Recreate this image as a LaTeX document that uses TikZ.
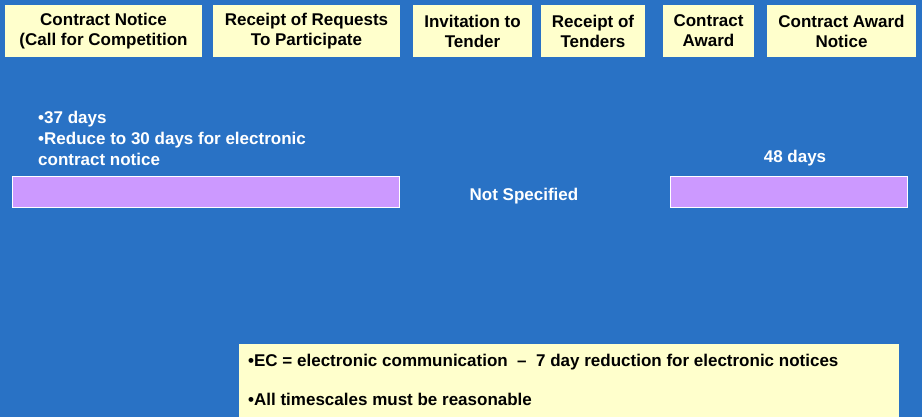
\documentclass[tikz,border=0pt]{standalone}
\usepackage{fontspec}
\setmainfont{Liberation Sans}
\definecolor{bg}{RGB}{41,114,197}
\definecolor{hy}{RGB}{255,255,204}
\definecolor{lil}{RGB}{204,153,255}
\tikzset{
  hdr/.style={fill=hy, inner sep=0pt, align=center, minimum height=52pt,
    font=\fontsize{17}{20}\selectfont\bfseries, text=black},
  bar/.style={fill=lil, draw=white, line width=1pt, inner sep=0pt, minimum height=31pt},
  wtxt/.style={text=white, inner sep=0pt, font=\fontsize{17}{21}\selectfont\bfseries},
  notebox/.style={fill=hy, inner sep=0pt, anchor=north west, minimum width=660pt, minimum height=75pt},
  notetxt/.style={text=black, inner sep=0pt, align=left, font=\fontsize{17}{39}\selectfont\bfseries}
}
\begin{document}
\begin{tikzpicture}[x=1pt,y=-1pt]
\useasboundingbox (0,0) rectangle (922,417);
\fill[bg] (0,0) rectangle (922,417);
\node[hdr, minimum width=197pt] (h1) at (103.5,31) {Contract Notice\\(Call for Competition};
\node[hdr, minimum width=187pt] (h2) at (306.5,31) {Receipt of Requests\\To Participate};
\node[hdr, minimum width=119pt] (h3) at (472.5,31) {Invitation to\\Tender};
\node[hdr, minimum width=104pt] (h4) at (593,31) {Receipt of\\Tenders};
\node[hdr, minimum width=91pt] (h5) at (708.5,31) {Contract\\Award};
\node[hdr, minimum width=149pt] (h6) at (841.5,31) {Contract Award\\Notice};
\node[wtxt, align=left, anchor=north west] (t1) at (38,111) {•37 days\\•Reduce to 30 days for electronic\\contract notice};
\node[bar, minimum width=387pt] (b1) at (205.5,192.5) {};
\node[wtxt] (ns) at (524,196) {Not Specified};
\node[wtxt] (d48) at (795,158) {48 days};
\node[bar, minimum width=237pt] (b2) at (788.5,192.5) {};
\node[notebox] (nb) at (239,344) {};
\node[notetxt, anchor=base west] (nt) at (248,405) {•EC = electronic communication \ –\ \ 7 day reduction for electronic notices\\•All timescales must be reasonable};
\end{tikzpicture}
\end{document}
